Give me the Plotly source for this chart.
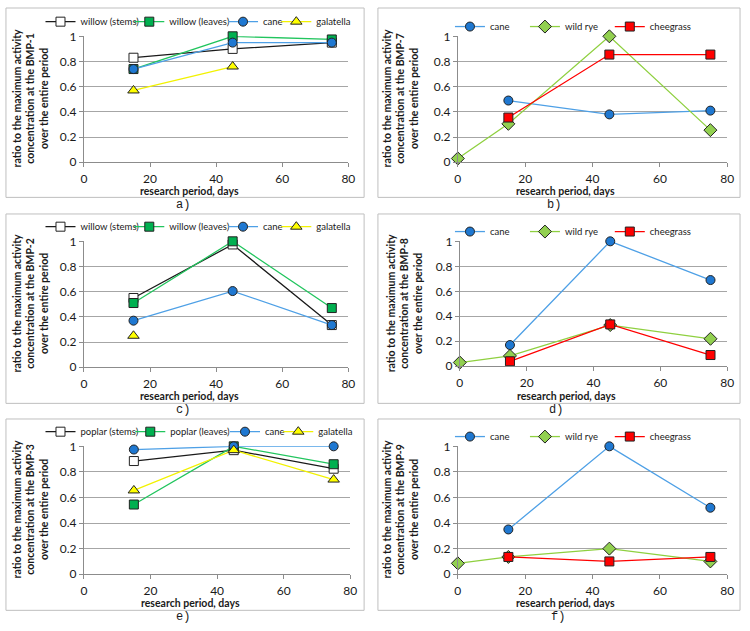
import plotly.graph_objects as go

W, H = 750, 631

# ---------------- data ----------------
days3 = [15, 45, 75]
days4 = [0, 15, 45, 75]

# a) BMP-1
a_stems = [0.83, 0.90, 0.95]
a_leaves = [0.74, 1.00, 0.975]
a_cane = [0.74, 0.95, 0.95]
a_galatella = [0.57, 0.76, None]
# c) BMP-2
c_stems = [0.55, 0.975, 0.335]
c_leaves = [0.51, 1.00, 0.47]
c_cane = [0.37, 0.605, 0.335]
c_galatella = [0.25, None, None]
# e) BMP-3
e_stems = [0.885, 0.97, 0.825]
e_leaves = [0.545, 1.00, 0.86]
e_cane = [0.975, 1.00, 1.00]
e_galatella = [0.655, 0.97, 0.74]
# b) BMP-7
b_cane = [None, 0.49, 0.38, 0.41]
b_wildrye = [0.03, 0.305, 1.00, 0.255]
b_cheegrass = [None, 0.355, 0.855, 0.855]
# d) BMP-8
d_cane = [None, 0.17, 1.00, 0.69]
d_wildrye = [0.03, 0.083, 0.33, 0.22]
d_cheegrass = [None, 0.04, 0.335, 0.09]
# f) BMP-9
f_cane = [None, 0.35, 1.00, 0.52]
f_wildrye = [0.085, 0.135, 0.20, 0.10]
f_cheegrass = [None, 0.135, 0.10, 0.135]

x_ticks = [0, 20, 40, 60, 80]
y_ticks = [0, 0.2, 0.4, 0.6, 0.8, 1]
y_ticktext = ["0", "0.2", "0.4", "0.6", "0.8", "1"]

# ---------------- styles ----------------
EDGE = "#222222"
STY = {
    "stems": dict(line="#1a1a1a", fill="#ffffff", symbol="square", size=9),
    "leaves": dict(line="#22c55e", fill="#00b050", symbol="square", size=9),
    "cane": dict(line="#4ea0e6", fill="#1f78d1", symbol="circle", size=9),
    "galatella": dict(line="#f2f200", fill="#ffff00", symbol="triangle-up", size=10),
    "wildrye": dict(line="#8fd040", fill="#92d050", symbol="diamond", size=10),
    "cheegrass": dict(line="#ff0000", fill="#ff0000", symbol="square", size=9),
}

FONT = "Lato, Carlito, Calibri, sans-serif"


def px_x(p):
    return p / W


def px_y(p):
    return 1 - p / H


fig = go.Figure()
legend_layouts = {}
legend_counter = [0]


def add_series(ax, xs, ys, name, key, marker_px, leg_y):
    s = STY[key]
    legend_counter[0] += 1
    n = legend_counter[0]
    lname = "legend" if n == 1 else f"legend{n}"
    fig.add_trace(go.Scatter(
        x=xs, y=ys, name=name, mode="lines+markers",
        xaxis="x" if ax == 1 else f"x{ax}",
        yaxis="y" if ax == 1 else f"y{ax}",
        line=dict(color=s["line"], width=1.3),
        marker=dict(symbol=s["symbol"], size=s["size"], color=s["fill"],
                    line=dict(color=EDGE, width=1)),
        cliponaxis=False, connectgaps=False,
        legend=lname, showlegend=True,
    ))
    legend_layouts[lname] = dict(
        x=px_x(marker_px - 20), y=px_y(leg_y), xanchor="left", yanchor="middle",
        orientation="h", bgcolor="rgba(0,0,0,0)", borderwidth=0,
        font=dict(family=FONT, size=9.5, color="#1a1a1a"),
        itemwidth=30, tracegroupgap=0,
    )


# panel geometry in pixels: (x0, x1, ytop, ybottom)
panels = {
    1: (82, 350, 29, 158),
    2: (461, 734, 29, 158),
    3: (82, 350, 239, 368),
    4: (463, 734, 239, 367),
    5: (82, 352, 449, 580),
    6: (461, 734, 449, 580),
}

# left panels (legend marker x positions in px)
L_POS = [58, 148, 243, 297]
add_series(1, days3, a_stems, "willow (stems)", "stems", L_POS[0], 14)
add_series(1, days3, a_leaves, "willow (leaves)", "leaves", L_POS[1], 14)
add_series(1, days3, a_cane, "cane", "cane", L_POS[2], 14)
add_series(1, days3, a_galatella, "galatella", "galatella", L_POS[3], 14)

add_series(3, days3, c_stems, "willow (stems)", "stems", L_POS[0], 224)
add_series(3, days3, c_leaves, "willow (leaves)", "leaves", L_POS[1], 224)
add_series(3, days3, c_cane, "cane", "cane", L_POS[2], 224)
add_series(3, days3, c_galatella, "galatella", "galatella", L_POS[3], 224)

add_series(5, days3, e_stems, "poplar (stems)", "stems", L_POS[0], 434)
add_series(5, days3, e_leaves, "poplar (leaves)", "leaves", L_POS[1] + 1, 434)
add_series(5, days3, e_cane, "cane", "cane", L_POS[2] + 2, 434)
add_series(5, days3, e_galatella, "galatella", "galatella", L_POS[3] + 2, 434)

# right panels
R_POS = [473, 549, 635]
add_series(2, days4, b_cane, "cane", "cane", R_POS[0], 19)
add_series(2, days4, b_wildrye, "wild rye", "wildrye", R_POS[1], 19)
add_series(2, days4, b_cheegrass, "cheegrass", "cheegrass", R_POS[2], 19)

add_series(4, days4, d_cane, "cane", "cane", R_POS[0], 229)
add_series(4, days4, d_wildrye, "wild rye", "wildrye", R_POS[1], 229)
add_series(4, days4, d_cheegrass, "cheegrass", "cheegrass", R_POS[2], 229)

add_series(6, days4, f_cane, "cane", "cane", R_POS[0], 439)
add_series(6, days4, f_wildrye, "wild rye", "wildrye", R_POS[1], 439)
add_series(6, days4, f_cheegrass, "cheegrass", "cheegrass", R_POS[2], 439)

layout = dict(
    width=W, height=H, margin=dict(l=0, r=0, t=0, b=0), autosize=False,
    paper_bgcolor="white", plot_bgcolor="white",
    font=dict(family=FONT, size=11, color="#1a1a1a"),
)

AXCOL = "#8c8c8c"
for i, (x0, x1, yt, yb) in panels.items():
    xa = "xaxis" if i == 1 else f"xaxis{i}"
    ya = "yaxis" if i == 1 else f"yaxis{i}"
    layout[xa] = dict(
        domain=[px_x(x0), px_x(x1)], anchor="y" if i == 1 else f"y{i}",
        range=[0, 80], tickvals=x_ticks, showgrid=False, zeroline=False,
        showline=True, linecolor=AXCOL, linewidth=1,
        ticks="outside", ticklen=4, tickcolor=AXCOL,
        tickfont=dict(family=FONT, size=12, color="#1a1a1a"),
        ticklabelstandoff=1, fixedrange=True,
    )
    layout[ya] = dict(
        domain=[px_y(yb), px_y(yt)], anchor="x" if i == 1 else f"x{i}",
        range=[0, 1], tickvals=y_ticks, ticktext=y_ticktext,
        showgrid=True, gridcolor="#a6a6a6", gridwidth=1, zeroline=False,
        showline=True, linecolor=AXCOL, linewidth=1,
        ticks="outside", ticklen=4, tickcolor=AXCOL,
        tickfont=dict(family=FONT, size=12, color="#1a1a1a"),
        fixedrange=True,
    )

layout.update(legend_layouts)

# frames around each chart
boxes = [
    (3, 366, 0, 194), (380, 747, 0, 194),
    (3, 366, 211, 405), (380, 747, 211, 405),
    (3, 366, 421, 617), (380, 747, 421, 617),
]
shapes = []
for (bx0, bx1, by0, by1) in boxes:
    shapes.append(dict(type="rect", xref="paper", yref="paper",
                       x0=px_x(bx0), x1=px_x(bx1), y0=px_y(by1), y1=px_y(by0),
                       line=dict(color="#bfbfbf", width=1), layer="below"))
layout["shapes"] = shapes

annotations = []
ytitle = "ratio to the maximum activity<br>concentration at the {}<br>over the entire period"
ytitles = [
    (28, 93, "BMP-1"), (403, 93, "BMP-7"),
    (28, 303, "BMP-2"), (407, 303, "BMP-8"),
    (28, 514, "BMP-3"), (403, 514, "BMP-9"),
]
for (x, y, bmp) in ytitles:
    annotations.append(dict(
        text="<b>" + ytitle.format(bmp) + "</b>", xref="paper", yref="paper",
        x=px_x(x), y=px_y(y), xanchor="center", yanchor="middle",
        textangle=-90, showarrow=False,
        font=dict(family=FONT, size=10.5, color="#1a1a1a"), align="center",
    ))
xtitles = [(189, 187), (570, 187), (189, 397), (571, 397), (190, 609), (570, 609)]
for (x, y) in xtitles:
    annotations.append(dict(
        text="<b>research period, days</b>", xref="paper", yref="paper",
        x=px_x(x), y=px_y(y), xanchor="center", yanchor="middle", showarrow=False,
        font=dict(family=FONT, size=10.5, color="#1a1a1a"),
    ))
labels = [("a)", 182, 202), ("b)", 558, 202), ("c)", 182, 412),
          ("d)", 560, 412), ("e)", 182, 624), ("f)", 562, 624)]
for (t, x, y) in labels:
    annotations.append(dict(
        text=t, xref="paper", yref="paper", x=px_x(x), y=px_y(y),
        xanchor="center", yanchor="middle", showarrow=False,
        font=dict(family="Liberation Mono, monospace", size=12, color="#1a1a1a"),
    ))
layout["annotations"] = annotations

fig.update_layout(**layout)
fig.write_html("out.html", config={"displayModeBar": False})
